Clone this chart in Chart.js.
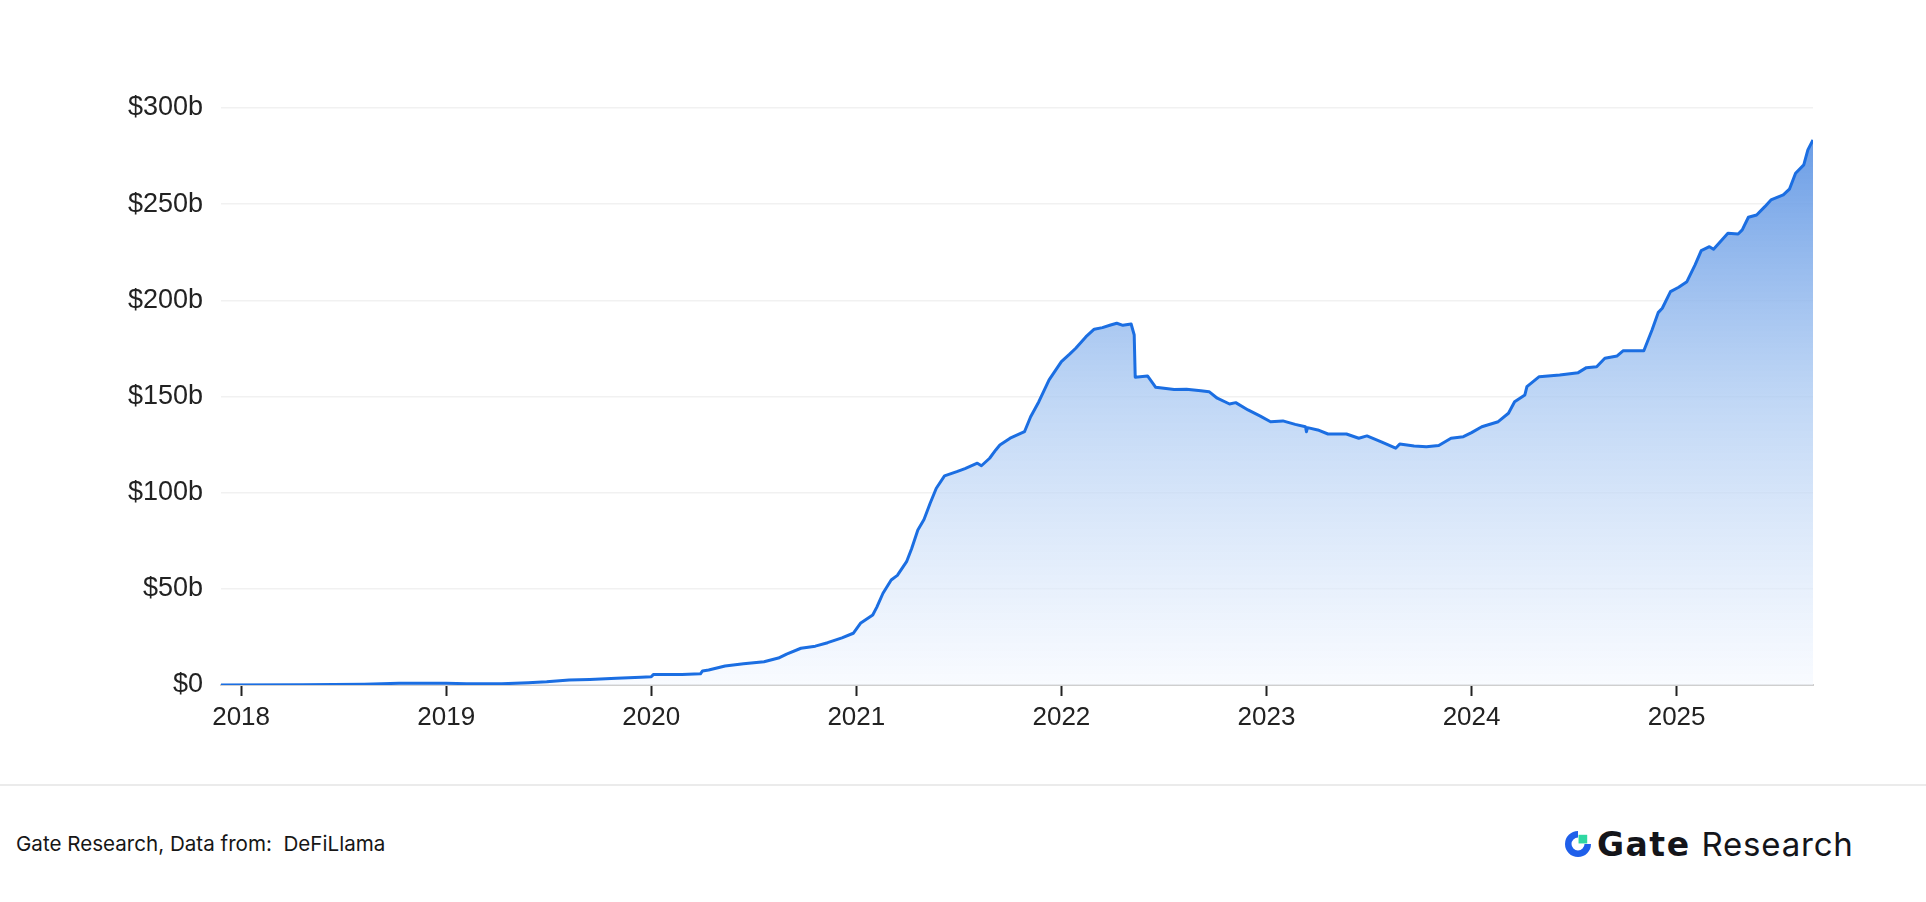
<!DOCTYPE html>
<html>
<head>
<meta charset="utf-8">
<script src="https://cdn.jsdelivr.net/npm/chart.js@4/dist/chart.umd.min.js"></script>
<style>
  html, body { margin: 0; padding: 0; background: #ffffff; }
  body { width: 1926px; height: 902px; position: relative; overflow: hidden; font-family: Inter, "Liberation Sans", sans-serif; }
  #chart-wrap { position: absolute; left: 0; top: 0; width: 1926px; height: 780px; }
  #footer-line { position: absolute; left: 0; top: 784px; width: 1926px; height: 2px; background: #ebebeb; }
  #source { position: absolute; left: 16px; top: 831px; font-size: 20.6px; color: #161616; }
  #logo { position: absolute; left: 1565px; top: 823px; height: 42px; display: flex; align-items: center; }
  #logo svg { margin-right: 6px; }
  #logo .gate { font-family: "DejaVu Sans", Inter, sans-serif; font-weight: 700; font-size: 33px; color: #14151a; letter-spacing: 1.5px; }
  #logo .research { font-weight: 400; font-size: 33px; color: #14151a; margin-left: 11px; letter-spacing: 0.8px; }
</style>
</head>
<body>
<div id="chart-wrap"><canvas id="myChart" width="1926" height="780"></canvas></div>
<div id="footer-line"></div>
<div id="source">Gate Research, Data from:&nbsp; DeFiLlama</div>
<div id="logo">
  <svg width="26" height="26" viewBox="0 0 24 24">
    <path d="M 12 3 A 9 9 0 1 0 21 12" fill="none" stroke="#1f5fea" stroke-width="6"/>
    <rect x="12.5" y="3.5" width="8" height="8" fill="#2fd8a2"/>
  </svg>
  <span class="gate">Gate</span><span class="research">Research</span>
</div>

<script>
// TVL verisi (yıl, milyar $)
const tvlDates = [
  2017.902, 2018.3, 2018.6, 2018.77, 2019.0, 2019.1, 2019.27, 2019.4, 2019.49, 2019.6,
  2019.7, 2019.83, 2019.95, 2020.0, 2020.01, 2020.15, 2020.24, 2020.25, 2020.28, 2020.36,
  2020.45, 2020.55, 2020.62, 2020.66, 2020.73, 2020.8, 2020.86, 2020.93, 2020.985, 2021.02,
  2021.08, 2021.1, 2021.13, 2021.17, 2021.2, 2021.245, 2021.27, 2021.30, 2021.33, 2021.36,
  2021.39, 2021.43, 2021.49, 2021.53, 2021.59, 2021.61, 2021.65, 2021.68, 2021.70, 2021.75,
  2021.82, 2021.85, 2021.89, 2021.94, 2022.00, 2022.04, 2022.07, 2022.12, 2022.16, 2022.20,
  2022.24, 2022.27, 2022.30, 2022.34, 2022.355, 2022.36, 2022.42, 2022.46, 2022.55, 2022.61,
  2022.68, 2022.72, 2022.76, 2022.82, 2022.85, 2022.91, 2022.97, 2023.02, 2023.08, 2023.14,
  2023.19, 2023.195, 2023.2, 2023.25, 2023.30, 2023.39, 2023.45, 2023.49, 2023.56, 2023.63,
  2023.65, 2023.72, 2023.78, 2023.84, 2023.90, 2023.96, 2024.00, 2024.05, 2024.13, 2024.18,
  2024.21, 2024.26, 2024.27, 2024.33, 2024.43, 2024.52, 2024.56, 2024.61, 2024.65, 2024.71,
  2024.74, 2024.84, 2024.88, 2024.91, 2024.93, 2024.97, 2025.01, 2025.05, 2025.09, 2025.12,
  2025.16, 2025.18, 2025.25, 2025.30, 2025.32, 2025.35, 2025.39, 2025.43, 2025.46, 2025.52,
  2025.55, 2025.58, 2025.62, 2025.64, 2025.665
];
const tvlValues = [
  0, 0.1, 0.4, 0.9, 0.9, 0.7, 0.6, 1.2, 1.7, 2.6,
  2.9, 3.5, 4.0, 4.3, 5.4, 5.5, 5.8, 7.3, 7.8, 9.9,
  11.0, 12.1, 14.0, 16.1, 19.1, 20.2, 22.0, 24.5, 26.9, 32.1,
  36.4, 40.5, 47.7, 54.6, 57.0, 64.1, 71, 80.6, 86, 94.5,
  102.3, 108.7, 110.9, 112.5, 115.3, 114, 117.9, 122.2, 124.8, 128.3,
  131.7, 139.5, 147.3, 158.6, 168.1, 172, 175.1, 181.1, 185, 185.8,
  187.2, 188.1, 187, 187.7, 182, 160, 160.7, 154.8, 153.6, 153.8,
  153, 152.5, 149.1, 146.1, 146.8, 143, 139.8, 136.9, 137.3, 135.5,
  134.3, 131.7, 133.8, 132.6, 130.5, 130.5, 128.3, 129.5, 126.4, 123.1,
  125.3, 124.3, 123.9, 124.5, 128.3, 129.1, 131.2, 134.3, 136.9, 141.3,
  147.3, 150.8, 155.1, 160.3, 161.2, 162.4, 165, 165.5, 169.9, 171.1,
  173.8, 173.8, 184.6, 193.6, 195.9, 204.5, 206.8, 209.7, 218.4, 225.8,
  227.9, 226.6, 234.9, 234.5, 236.6, 243.2, 244.4, 248.7, 252.2, 254.8,
  257.8, 266.1, 270.4, 278.2, 283.4
];
const yearTicks = [2018, 2019, 2020, 2021, 2022, 2023, 2024, 2025];
const yTicks = [0, 50, 100, 150, 200, 250, 300];

const points = tvlDates.map((d, i) => ({ x: d, y: tvlValues[i] }));

Chart.defaults.font.family = '"Liberation Sans", Arial, sans-serif';
Chart.defaults.color = '#222';

const ctx = document.getElementById('myChart').getContext('2d');

const chart = new Chart(ctx, {
  type: 'line',
  data: {
    datasets: [{
      data: points,
      borderColor: '#1b6ee2',
      borderWidth: 3,
      borderJoinStyle: 'round',
      pointRadius: 0,
      tension: 0,
      fill: 'origin',
      backgroundColor: function(context) {
        const area = context.chart.chartArea;
        if (!area) return 'rgba(120,165,235,0.5)';
        const g = context.chart.ctx.createLinearGradient(0, area.top, 0, area.bottom);
        g.addColorStop(0, 'rgba(86,143,226,0.95)');
        g.addColorStop(0.5, 'rgba(170,201,242,0.75)');
        g.addColorStop(1, 'rgba(244,248,255,0.6)');
        return g;
      }
    }]
  },
  options: {
    responsive: false,
    devicePixelRatio: 1,
    animation: false,
    layout: { padding: { left: 0, right: 113, top: 108, bottom: 0 } },
    plugins: { legend: { display: false }, tooltip: { enabled: false } },
    scales: {
      x: {
        type: 'linear',
        min: tvlDates[0],
        max: tvlDates[tvlDates.length - 1],
        afterBuildTicks: axis => { axis.ticks = yearTicks.map(v => ({ value: v })); },
        afterFit: axis => { axis.height = 95; },
        grid: { drawOnChartArea: false, drawTicks: true, tickLength: 11, tickColor: '#222', tickWidth: 2 },
        border: { display: true, color: '#cfcfcf', width: 2 },
        ticks: { font: { size: 26 }, color: '#222', padding: 6, maxRotation: 0, callback: v => String(v) }
      },
      y: {
        min: 0,
        max: 300,
        afterBuildTicks: axis => { axis.ticks = yTicks.map(v => ({ value: v })); },
        afterFit: axis => { axis.width = 221; },
        grid: { color: '#f1f1f1', lineWidth: 1.5, drawTicks: false },
        border: { display: false },
        ticks: { font: { size: 27 }, color: '#222', padding: 18, callback: v => v === 0 ? '$0' : '$' + v + 'b' }
      }
    }
  }
});
</script>
</body>
</html>
